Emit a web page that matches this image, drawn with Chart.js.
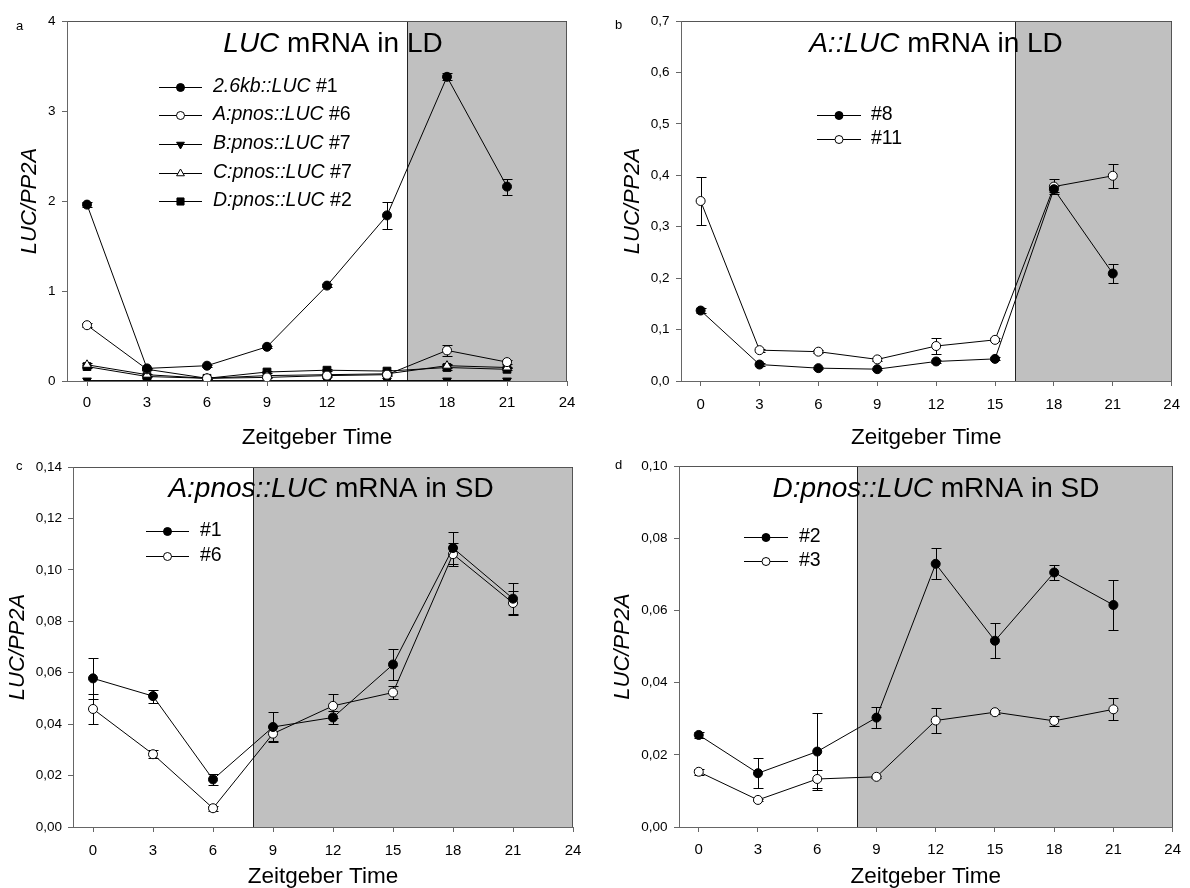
<!DOCTYPE html>
<html>
<head>
<meta charset="utf-8">
<title>LUC mRNA levels</title>
<script src="https://cdn.jsdelivr.net/npm/chart.js@4.4.0/dist/chart.umd.min.js"></script>
<style>
    html, body { margin: 0; padding: 0; background: #fff; overflow: hidden; }
    #wrap { position: relative; width: 1190px; height: 888px; }
    #wrap canvas { position: absolute; }
</style>
</head>
<body>
<div id="wrap">
    <canvas id="chartA" width="595" height="460" style="left:0;top:0"></canvas>
    <canvas id="chartB" width="595" height="460" style="left:595px;top:0"></canvas>
    <canvas id="chartC" width="595" height="450" style="left:0;top:444px"></canvas>
    <canvas id="chartD" width="595" height="450" style="left:595px;top:444px"></canvas>
</div>
<script>
const timePoints = [0, 3, 6, 9, 12, 15, 18, 21];
const timeTicks = [0, 3, 6, 9, 12, 15, 18, 21, 24];

// a - LUC mRNA in LD
const kbLuc1 = [1.96, 0.14, 0.17, 0.38, 1.06, 1.84, 3.38, 2.16];
const kbLuc1Err = [0.03, 0.01, 0.01, 0.01, 0.02, 0.15, 0.04, 0.09];
const aPnos6 = [0.62, 0.13, 0.03, 0.04, 0.06, 0.07, 0.34, 0.21];
const aPnos6Err = [0.02, 0.01, 0.01, 0.01, 0.01, 0.01, 0.06, 0.02];
const bPnos7 = [0.005, 0.005, 0.005, 0.005, 0.005, 0.005, 0.005, 0.005];
const cPnos7 = [0.18, 0.07, 0.03, 0.06, 0.07, 0.08, 0.17, 0.15];
const cPnos7Err = [0.02, 0.01, 0.01, 0.01, 0.01, 0.01, 0.02, 0.01];
const dPnos2 = [0.16, 0.05, 0.03, 0.10, 0.12, 0.11, 0.15, 0.13];
const dPnos2Err = [0.02, 0.01, 0.01, 0.01, 0.01, 0.01, 0.03, 0.01];
const ticksA = [0, 1, 2, 3, 4];

// b - A::LUC mRNA in LD
const aLuc8 = [0.137, 0.032, 0.025, 0.023, 0.038, 0.043, 0.373, 0.209];
const aLuc8Err = [0.005, 0.003, 0.002, 0.002, 0.003, 0.003, 0.006, 0.019];
const aLuc11 = [0.350, 0.060, 0.057, 0.042, 0.068, 0.080, 0.378, 0.399];
const aLuc11Err = [0.047, 0.003, 0.003, 0.003, 0.015, 0.003, 0.015, 0.023];
const ticksB = [0, 0.1, 0.2, 0.3, 0.4, 0.5, 0.6, 0.7];

// c - A:pnos::LUC mRNA in SD
const sdA1 = [0.0578, 0.0509, 0.0185, 0.0389, 0.0426, 0.0632, 0.1085, 0.0888];
const sdA1Err = [0.008, 0.0025, 0.002, 0.006, 0.0025, 0.006, 0.0062, 0.006];
const sdA6 = [0.0459, 0.0283, 0.0073, 0.0363, 0.0471, 0.0523, 0.1061, 0.0871];
const sdA6Err = [0.006, 0.0015, 0.001, 0.003, 0.0047, 0.0027, 0.0045, 0.0045];
const ticksC = [0, 0.02, 0.04, 0.06, 0.08, 0.10, 0.12, 0.14];

// d - D:pnos::LUC mRNA in SD
const sdD2 = [0.0255, 0.0149, 0.0209, 0.0303, 0.0729, 0.0516, 0.0705, 0.0615];
const sdD2Err = [0.0008, 0.0042, 0.0106, 0.003, 0.0043, 0.0049, 0.0022, 0.007];
const sdD3 = [0.0153, 0.0075, 0.0133, 0.0139, 0.0295, 0.0318, 0.0294, 0.0326];
const sdD3Err = [0.0008, 0.0003, 0.0026, 0.0002, 0.0034, 0.0005, 0.0013, 0.003];
const ticksD = [0, 0.02, 0.04, 0.06, 0.08, 0.10];

const FONT = 'Arial, "Liberation Sans", sans-serif';

function series(label, values, errors, style, fill, radius, rotation) {
    return {
        label: label,
        data: values.map((v, i) => ({ x: timePoints[i], y: v })),
        errors: errors,
        borderColor: '#000',
        borderWidth: 1,
        pointStyle: style,
        pointRotation: rotation || 0,
        pointRadius: radius,
        pointBackgroundColor: fill,
        pointBorderColor: '#000',
        pointBorderWidth: 1,
        tension: 0
    };
}

// vertical error bars with caps, under the lines and markers
const errorBars = {
    id: 'errorBars',
    beforeDatasetsDraw(chart) {
        const ctx = chart.ctx, xs = chart.scales.x, ys = chart.scales.y;
        ctx.save();
        ctx.strokeStyle = '#000';
        ctx.lineWidth = 1;
        chart.data.datasets.forEach(ds => {
            if (!ds.errors) return;
            ds.data.forEach((p, i) => {
                const e = ds.errors[i];
                if (!e) return;
                const x = Math.round(xs.getPixelForValue(p.x)) + 0.5;
                const y1 = Math.round(ys.getPixelForValue(p.y + e)) + 0.5;
                const y2 = Math.round(ys.getPixelForValue(Math.max(p.y - e, 0))) + 0.5;
                ctx.beginPath();
                ctx.moveTo(x, y1); ctx.lineTo(x, y2);
                ctx.moveTo(x - 5, y1); ctx.lineTo(x + 5, y1);
                ctx.moveTo(x - 5, y2); ctx.lineTo(x + 5, y2);
                ctx.stroke();
            });
        });
        ctx.restore();
    }
};

// grey night period plus the top/right frame
const darkPhase = {
    id: 'darkPhase',
    beforeDraw(chart, args, opts) {
        const ctx = chart.ctx, a = chart.chartArea, xs = chart.scales.x;
        const left = Math.round(xs.getPixelForValue(opts.from));
        const right = Math.round(xs.getPixelForValue(24));
        ctx.save();
        ctx.fillStyle = '#c0c0c0';
        ctx.fillRect(left, a.top, right - left, a.bottom - a.top);
        ctx.strokeStyle = '#222';
        ctx.lineWidth = 1;
        ctx.strokeRect(left + 0.5, Math.round(a.top) + 0.5, right - left - 1, a.bottom - a.top);
        ctx.strokeStyle = '#555';
        ctx.beginPath();
        ctx.moveTo(a.left, Math.round(a.top) + 0.5);
        ctx.lineTo(right - 0.5, Math.round(a.top) + 0.5);
        ctx.lineTo(right - 0.5, a.bottom);
        ctx.stroke();
        ctx.restore();
    }
};

// split "xxx::LUC #n" / "xxx::LUC mRNA ..." into an italic gene part and plain rest
function splitItalic(text, marker) {
    const k = text.indexOf(marker);
    if (k < 0) return [[text, false]];
    return [[text.slice(0, k), true], [text.slice(k), false]];
}

function drawParts(ctx, parts, x, y, size, align) {
    const widths = parts.map(p => {
        ctx.font = (p[1] ? 'italic ' : '') + size + 'px ' + FONT;
        return ctx.measureText(p[0]).width;
    });
    const total = widths.reduce((s, w) => s + w, 0);
    let cx = align === 'center' ? x - total / 2 : x;
    parts.forEach((p, i) => {
        ctx.font = (p[1] ? 'italic ' : '') + size + 'px ' + FONT;
        ctx.fillText(p[0], cx, y);
        cx += widths[i];
    });
}

// panel title, letter and the line/marker legend
const panelText = {
    id: 'panelText',
    afterDraw(chart, args, opts) {
        const ctx = chart.ctx;
        ctx.save();
        ctx.fillStyle = '#000';
        ctx.textAlign = 'left';
        ctx.textBaseline = 'alphabetic';
        drawParts(ctx, splitItalic(opts.title, ' mRNA'), opts.titleX, opts.titleY, 28, 'center');

        ctx.font = '13px ' + FONT;
        ctx.textBaseline = 'middle';
        ctx.fillText(opts.letter, opts.letterX - 4, opts.letterY);

        const lg = opts.legend;
        chart.data.datasets.forEach((ds, i) => {
            const y = lg.rows[i];
            ctx.strokeStyle = '#000';
            ctx.lineWidth = 1;
            ctx.beginPath();
            ctx.moveTo(lg.x1, Math.round(y) + 0.5);
            ctx.lineTo(lg.x2, Math.round(y) + 0.5);
            ctx.stroke();
            ctx.fillStyle = ds.pointBackgroundColor;
            Chart.helpers.drawPoint(ctx, {
                pointStyle: ds.pointStyle,
                rotation: ds.pointRotation,
                radius: ds.pointRadius - 0.5,
                borderWidth: 1
            }, (lg.x1 + lg.x2) / 2, Math.round(y) + 0.5);
            ctx.fillStyle = '#000';
            ctx.textBaseline = 'middle';
            drawParts(ctx, splitItalic(ds.label, ' #'), lg.text, y, 19.5, 'left');
        });
        ctx.restore();
    }
};

function commaTick(decimals) {
    return v => Number(v).toFixed(decimals).replace('.', ',');
}

function makePanel(id, p) {
    return new Chart(document.getElementById(id), {
        type: 'line',
        data: { datasets: p.datasets },
        plugins: [darkPhase, errorBars, panelText],
        options: {
            responsive: false,
            animation: false,
            layout: { padding: { left: 0, top: p.top, right: p.right, bottom: p.bottom } },
            plugins: {
                legend: { display: false },
                tooltip: { enabled: false },
                darkPhase: { from: p.darkFrom },
                panelText: p.text
            },
            scales: {
                x: {
                    type: 'linear',
                    min: -1,
                    max: 24,
                    afterBuildTicks: s => { s.ticks = timeTicks.map(v => ({ value: v })); },
                    afterFit: s => { s.height = p.xHeight; },
                    ticks: { color: '#000', font: { size: 15, family: FONT }, padding: p.xPad, maxRotation: 0, autoSkip: false },
                    grid: { display: true, drawOnChartArea: false, drawTicks: true, tickLength: 5, color: '#666' },
                    border: { display: true, color: '#666', width: 1 },
                    title: { display: true, text: 'Zeitgeber Time', color: '#000', font: { size: 22.5, family: FONT }, padding: { top: 0, bottom: 0 } }
                },
                y: {
                    type: 'linear',
                    min: 0,
                    max: p.yTicks[p.yTicks.length - 1],
                    afterBuildTicks: s => { s.ticks = p.yTicks.map(v => ({ value: v })); },
                    afterFit: s => { s.width = p.yWidth; },
                    ticks: { color: '#000', font: { size: 13.5, family: FONT }, padding: p.yPad, callback: commaTick(p.decimals) },
                    grid: { display: true, drawOnChartArea: false, drawTicks: true, tickLength: 5, color: '#666' },
                    border: { display: true, color: '#666', width: 1 },
                    title: { display: true, text: 'LUC/PP2A', color: '#000', font: { size: 22, family: FONT, style: 'italic' }, padding: { top: p.yTitlePad, bottom: 0 } }
                }
            }
        }
    });
}

makePanel('chartA', {
    datasets: [
        series('2.6kb::LUC #1', kbLuc1, kbLuc1Err, 'circle', '#000', 4.5),
        series('A:pnos::LUC #6', aPnos6, aPnos6Err, 'circle', '#fff', 4.5),
        series('B:pnos::LUC #7', bPnos7, null, 'triangle', '#000', 5, 180),
        series('C:pnos::LUC #7', cPnos7, cPnos7Err, 'triangle', '#fff', 5),
        series('D:pnos::LUC #2', dPnos2, dPnos2Err, 'rect', '#000', 5.5)
    ],
    top: 21, right: 28, bottom: 9, xHeight: 70, yWidth: 67,
    yTicks: ticksA, decimals: 0, xPad: 8, yPad: 6.5, yTitlePad: 17, darkFrom: 16,
    text: {
        title: 'LUC mRNA in LD', titleX: 333, titleY: 52, letter: 'a', letterX: 20, letterY: 26,
        legend: { x1: 159, x2: 202, text: 213, rows: [87, 115, 144, 173, 201] }
    }
});

makePanel('chartB', {
    datasets: [
        series('#8', aLuc8, aLuc8Err, 'circle', '#000', 4.5),
        series('#11', aLuc11, aLuc11Err, 'circle', '#fff', 4.5)
    ],
    top: 21, right: 10, bottom: 9, xHeight: 70, yWidth: 86,
    yTicks: ticksB, decimals: 1, xPad: 10, yPad: 6.5, yTitlePad: 25, darkFrom: 16,
    text: {
        title: 'A::LUC mRNA in LD', titleX: 341, titleY: 52, letter: 'b', letterX: 24, letterY: 25,
        legend: { x1: 222, x2: 266, text: 276, rows: [115, 139] }
    }
});

makePanel('chartC', {
    datasets: [
        series('#1', sdA1, sdA1Err, 'circle', '#000', 4.5),
        series('#6', sdA6, sdA6Err, 'circle', '#fff', 4.5)
    ],
    top: 23, right: 22, bottom: 4, xHeight: 63, yWidth: 73,
    yTicks: ticksC, decimals: 2, xPad: 10, yPad: 6, yTitlePad: 5, darkFrom: 8,
    text: {
        title: 'A:pnos::LUC mRNA in SD', titleX: 331, titleY: 53, letter: 'c', letterX: 20, letterY: 22,
        legend: { x1: 146, x2: 189, text: 200, rows: [87, 112] }
    }
});

makePanel('chartD', {
    datasets: [
        series('#2', sdD2, sdD2Err, 'circle', '#000', 4.5),
        series('#3', sdD3, sdD3Err, 'circle', '#fff', 4.5)
    ],
    top: 22, right: 12, bottom: 4, xHeight: 63, yWidth: 84,
    yTicks: ticksD, decimals: 2, xPad: 9, yPad: 6.5, yTitlePad: 15, darkFrom: 8,
    text: {
        title: 'D:pnos::LUC mRNA in SD', titleX: 341, titleY: 53, letter: 'd', letterX: 24, letterY: 21,
        legend: { x1: 149, x2: 193, text: 204, rows: [93, 117] }
    }
});
</script>
</body>
</html>
